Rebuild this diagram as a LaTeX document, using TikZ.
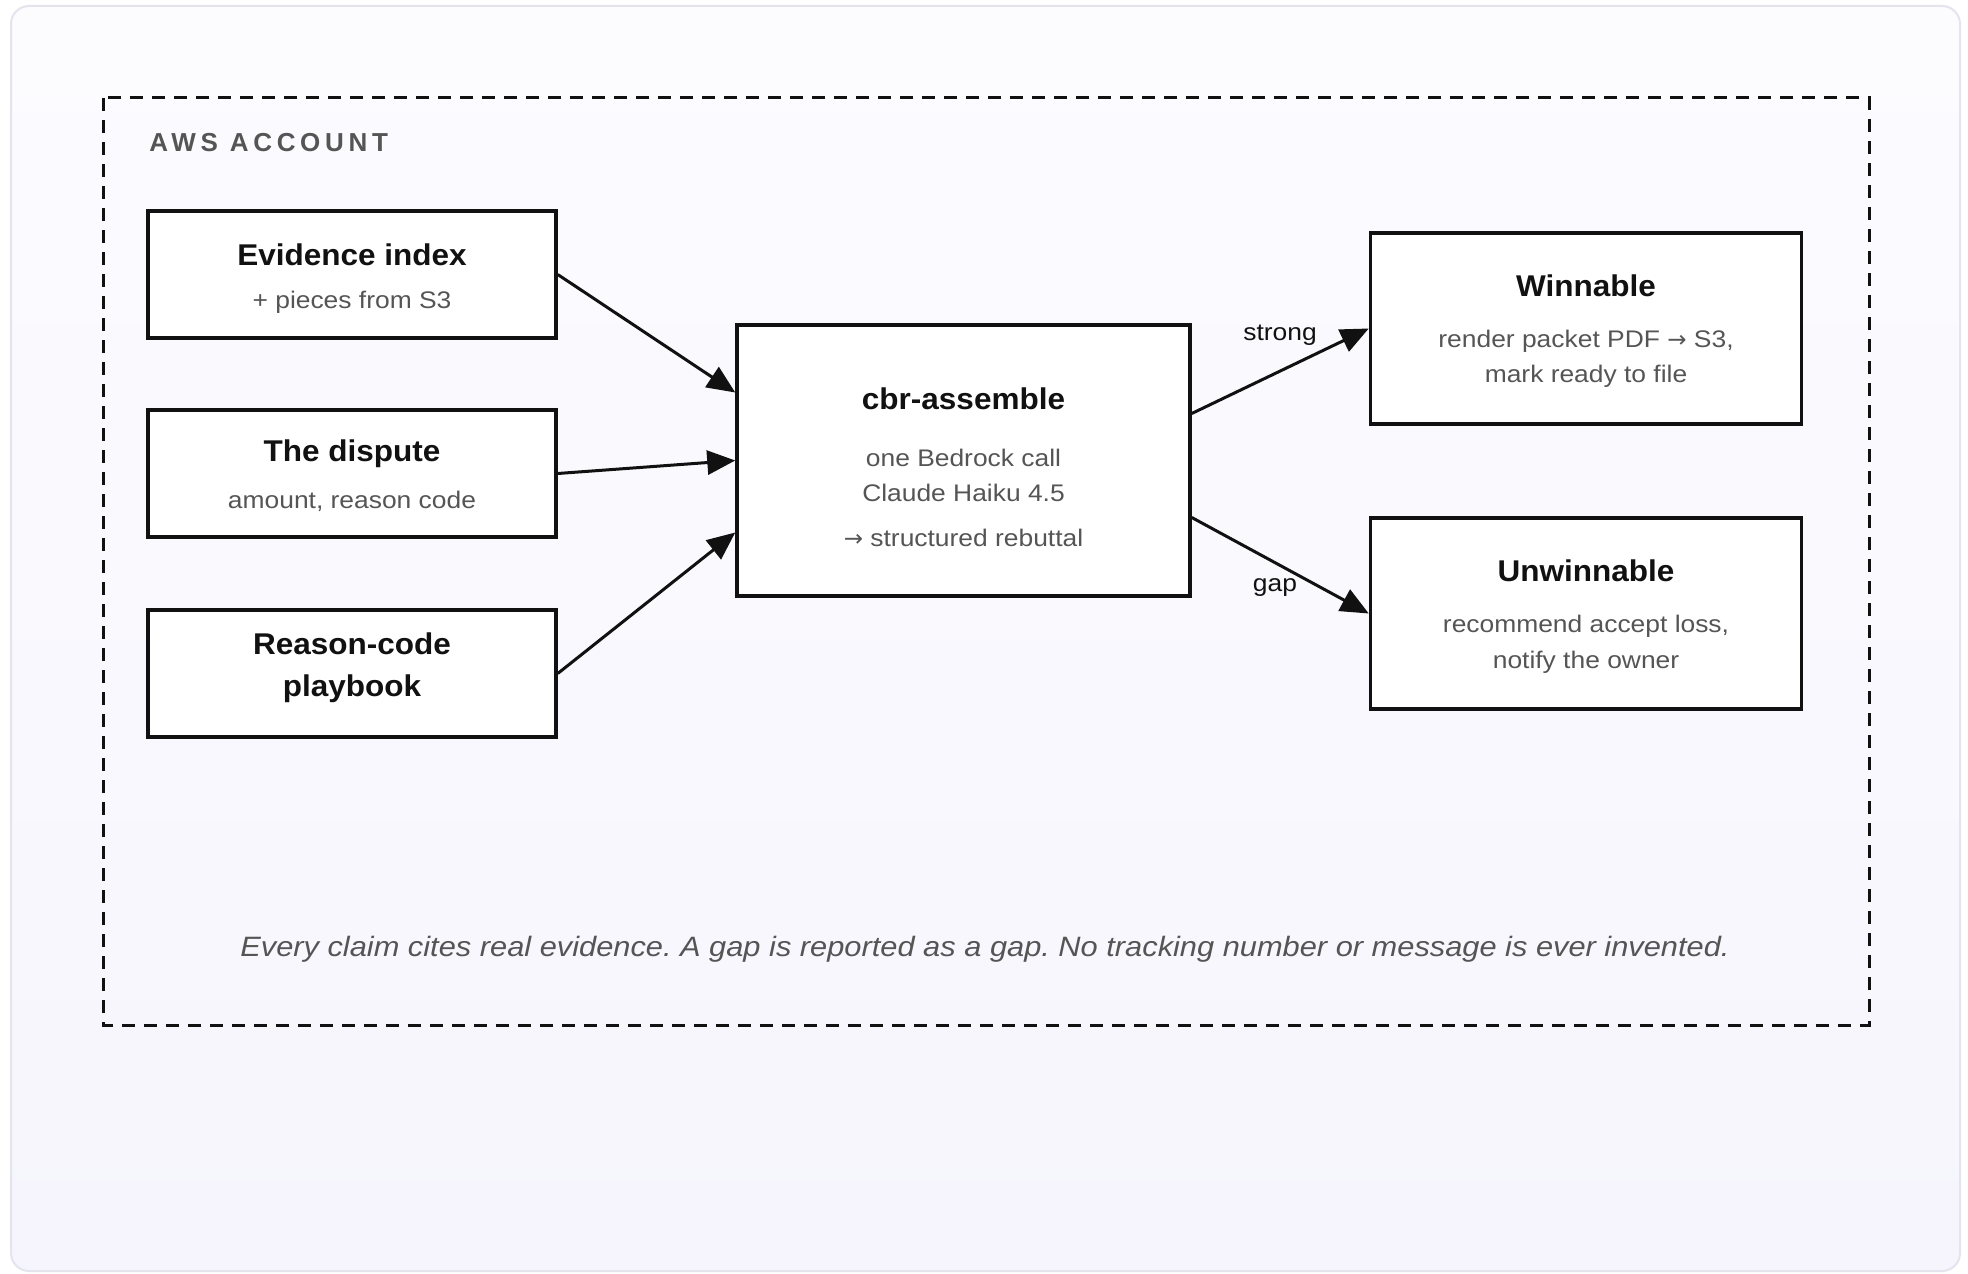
\documentclass[tikz,border=0pt]{standalone}
\usepackage{fontspec}
\setmainfont{Liberation Sans}
\newfontfamily\subfam[FakeStretch=1.1]{Liberation Sans}
\newfontfamily\ttlfam[FakeStretch=1.05]{Liberation Sans}
\newfontfamily\arrowfont{DejaVu Sans}
\usetikzlibrary{arrows.meta,calc}
\definecolor{ink}{HTML}{111111}
\definecolor{subgray}{HTML}{555555}
\definecolor{frameln}{HTML}{E4E4EE}
\definecolor{bgtop}{HTML}{FCFCFF}
\definecolor{bgbot}{HTML}{F6F5FD}
\newcommand{\rarr}{{\arrowfont\fontsize{11.5}{12}\selectfont→}}
\begin{document}
\frenchspacing
\begin{tikzpicture}[x=0.5pt,y=-0.5pt,
  box/.style={draw=ink, line width=1.75pt, fill=white, minimum width=204pt, minimum height=63.5pt, inner sep=0pt},
  bigbox/.style={box, minimum width=226.5pt, minimum height=135.5pt},
  outbox/.style={box, minimum width=215.5pt, minimum height=95.5pt},
  ttl/.style={text=ink, font=\ttlfam\fontsize{15}{17}\selectfont\bfseries, inner sep=0pt},
  subtxt/.style={text=subgray, font=\subfam\fontsize{12}{14}\selectfont, inner sep=0pt},
  elabel/.style={text=ink, font=\subfam\fontsize{12}{14}\selectfont, inner sep=0pt},
  arr/.style={draw=ink, line width=1.5pt, -{Triangle[length=14pt,width=12pt]}},
]
\useasboundingbox (0,0) rectangle (1968,1273);
\fill[white] (0,0) rectangle (1968,1273);
\shade[top color=bgtop, bottom color=bgbot, draw=frameln, line width=1pt, rounded corners=9pt] (11,6) rectangle (1960,1271);
\draw[ink, line width=1.5pt, dash pattern=on 6.5pt off 4.5pt] (103,98) rectangle (1869,1025);
\node[anchor=west, text=subgray, inner sep=0pt, font=\fontsize{13}{15}\selectfont\bfseries\addfontfeature{LetterSpace=18}] (aws) at (149,143) {AWS ACCOUNT};

% inputs
\node[box] (ev) at (352,274.5) {};
\node[ttl] (evt) at (352,255) {Evidence index};
\node[subtxt] (evs) at (352,302.5) {+ pieces from S3};

\node[box] (dp) at (352,473.5) {};
\node[ttl] (dpt) at (352,454) {The dispute};
\node[subtxt] (dps) at (352,501.5) {amount, reason code};

\node[box] (rc) at (352,673.5) {};
\node[ttl] (rct1) at (352,644) {Reason-code};
\node[ttl] (rct2) at (352,688.5) {playbook};

% center
\node[bigbox] (cbr) at (963.5,460.5) {};
\node[ttl] (cbrt) at (963.5,399) {cbr-assemble};
\node[subtxt] (cbr1) at (963.5,457.5) {one Bedrock call};
\node[subtxt] (cbr2) at (963.5,493) {Claude Haiku 4.5};
\node[subtxt] (cbr3) at (963.5,538) {\rarr{} structured rebuttal};

% outputs
\node[outbox] (win) at (1586,328.5) {};
\node[ttl] (wint) at (1586,286) {Winnable};
\node[subtxt] (win1) at (1586,341.5) {render packet PDF \rarr{} S3,};
\node[subtxt] (win2) at (1586,376.5) {mark ready to file};

\node[outbox] (unw) at (1586,613.5) {};
\node[ttl] (unwt) at (1586,571) {Unwinnable};
\node[subtxt] (unw1) at (1586,626.5) {recommend accept loss,};
\node[subtxt] (unw2) at (1586,662.5) {notify the owner};

% connectors
\draw[arr] (ev.east) -- ([yshift=34pt]cbr.west);
\draw[arr] (dp.east) -- (cbr.west);
\draw[arr] (rc.east) -- ([yshift=-36pt]cbr.west);
\draw[arr] ([yshift=23.5pt]cbr.east) -- (win.west);
\draw[arr] ([yshift=-28.5pt]cbr.east) -- (unw.west);
\node[elabel] (lstrong) at (1280,335) {strong};
\node[elabel] (lgap) at (1275,588) {gap};

\node[text=subgray, inner sep=0pt, font=\subfam\fontsize{14}{16}\selectfont\itshape] (foot) at (985,949) {Every claim cites real evidence. A gap is reported as a gap. No tracking number or message is ever invented.};
\end{tikzpicture}
\end{document}
